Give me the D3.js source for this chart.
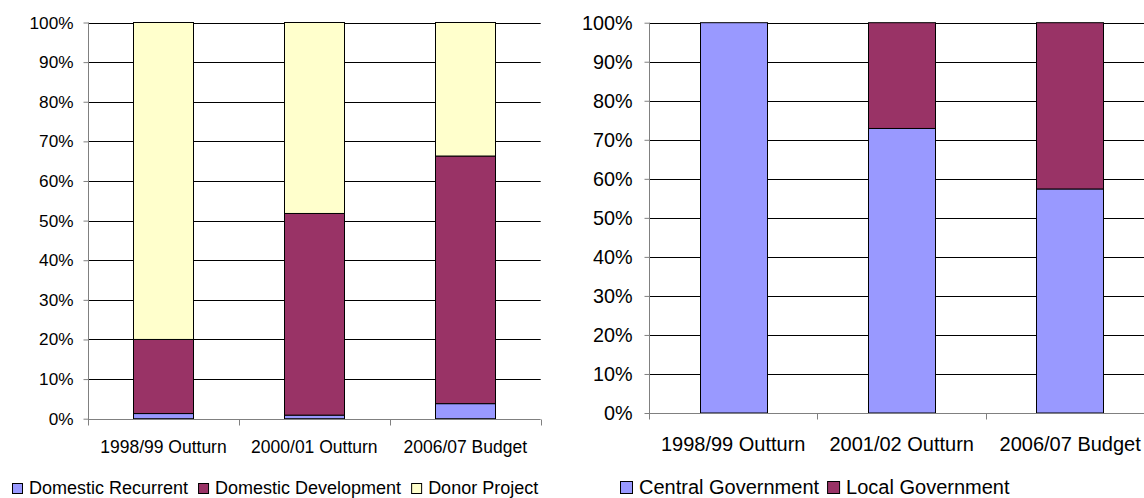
<!DOCTYPE html>
<html><head><meta charset="utf-8">
<script src="https://cdn.jsdelivr.net/npm/d3@7"></script>
<style>body{margin:0;background:#fff;} svg{display:block;font-family:"Liberation Sans",Arial,sans-serif;}</style>
</head><body>
<svg id="c" width="1144" height="498"></svg>
<script>
// Left chart data
const leftCategories = ["1998/99 Outturn", "2000/01 Outturn", "2006/07 Budget"];
const leftSeries = ["Domestic Recurrent", "Domestic Development", "Donor Project"];
const domesticRecurrent = [1.3, 0.9, 3.8];
const domesticDevelopment = [18.7, 50.9, 62.5];
const donorProject = [80.0, 48.2, 33.7];
const leftColors = ["#9999FF", "#993366", "#FFFFCC"];

// Right chart data
const rightCategories = ["1998/99 Outturn", "2001/02 Outturn", "2006/07 Budget"];
const rightSeries = ["Central Government", "Local Government"];
const centralGovernment = [100, 72.9, 57.4];
const localGovernment = [0, 27.1, 42.6];
const rightColors = ["#9999FF", "#993366"];

const tickValues = [0,10,20,30,40,50,60,70,80,90,100];

const svg = d3.select("#c");

function drawChart(cfg) {
  const g = svg.append("g");
  const x = d3.scaleBand().domain(cfg.categories).range([cfg.x0, cfg.x1]).paddingInner(0.6).paddingOuter(0.3);
  const y = d3.scaleLinear().domain([0, 100]).range([cfg.y0, cfg.y1]);
  // gridlines
  g.append("g").selectAll("line").data(tickValues.slice(1)).join("line")
    .attr("x1", cfg.x0).attr("x2", cfg.x1)
    .attr("y1", d => Math.round(y(d)) + 0.5).attr("y2", d => Math.round(y(d)) + 0.5)
    .attr("stroke", "#000").attr("stroke-width", 1);
  // stacked bars
  const rows = cfg.categories.map((c, i) => {
    const r = {cat: c};
    cfg.series.forEach((s, j) => r[s] = cfg.values[j][i]);
    return r;
  });
  const stack = d3.stack().keys(cfg.series)(rows);
  stack.forEach((layer, j) => {
    g.append("g").selectAll("rect").data(layer.filter(d => d[1] - d[0] > 0)).join("rect")
      .attr("x", d => Math.round(x(d.data.cat)) + 0.5)
      .attr("width", Math.round(x.bandwidth()))
      .attr("y", d => y(d[1]))
      .attr("height", d => y(d[0]) - y(d[1]))
      .attr("fill", cfg.colors[j]).attr("stroke", "#000").attr("stroke-width", 1);
  });
  // y axis
  const yAxis = d3.axisLeft(y).tickValues(tickValues).tickFormat(d => d + "%").tickSize(5).tickPadding(cfg.tickPad);
  const ya = g.append("g").attr("transform", `translate(${cfg.x0 + 0.5},0)`).call(yAxis);
  ya.select(".domain").attr("stroke", "#808080").attr("d", `M0,${cfg.y0 + 5}V${cfg.y1}`);
  ya.selectAll(".tick line").attr("stroke", "#808080");
  ya.selectAll("text").attr("font-size", cfg.fs).attr("fill", "#000").attr("font-family", "Liberation Sans, Arial, sans-serif");
  // x axis
  const xa = g.append("g").attr("transform", `translate(0,${Math.round(cfg.y0) + 0.5})`);
  xa.append("line").attr("x1", cfg.x0).attr("x2", cfg.x1).attr("stroke", "#808080");
  const bounds = cfg.categories.map(c => x(c) - x.step() * 0.3).concat([cfg.x1]);
  xa.selectAll(".xt").data(bounds).join("line").attr("class", "xt")
    .attr("x1", d => Math.round(d) + 0.5).attr("x2", d => Math.round(d) + 0.5)
    .attr("y1", 0).attr("y2", 6).attr("stroke", "#808080");
  xa.selectAll("text").data(cfg.categories).join("text")
    .attr("x", d => x(d) + x.bandwidth() / 2).attr("y", cfg.labelDy)
    .attr("text-anchor", "middle").attr("font-size", cfg.xfs).attr("fill", "#000").text(d => d);
  // legend
  const lg = g.append("g").attr("transform", `translate(${cfg.legX},${cfg.legY})`);
  let cx = 0;
  cfg.series.forEach((s, j) => {
    lg.append("rect").attr("x", cx + 0.5).attr("y", -cfg.sq - 0.5).attr("width", cfg.sq).attr("height", cfg.sq)
      .attr("fill", cfg.colors[j]).attr("stroke", "#000");
    const t = lg.append("text").attr("x", cx + cfg.sq + cfg.sqGap).attr("y", 0).attr("font-size", cfg.lfs).attr("fill", "#000").text(s);
    cx += cfg.sq + cfg.sqGap + t.node().getComputedTextLength() + cfg.itemGap;
  });
}

drawChart({
  categories: leftCategories, series: leftSeries,
  values: [domesticRecurrent, domesticDevelopment, donorProject],
  colors: leftColors,
  x0: 88, x1: 540.7, y0: 418.7, y1: 22.5,
  fs: 17.2, xfs: 17.5, tickPad: 10, labelDy: 33, lfs: 18, sq: 10, sqGap: 7, itemGap: 10, legX: 12, legY: 494
});
drawChart({
  categories: rightCategories, series: rightSeries,
  values: [centralGovernment, localGovernment],
  colors: rightColors,
  x0: 649, x1: 1154.4, y0: 413, y1: 22.7,
  fs: 19.8, xfs: 20, tickPad: 12, labelDy: 37, lfs: 20, sq: 12, sqGap: 7, itemGap: 8, legX: 620, legY: 494
});
</script>
</body></html>
